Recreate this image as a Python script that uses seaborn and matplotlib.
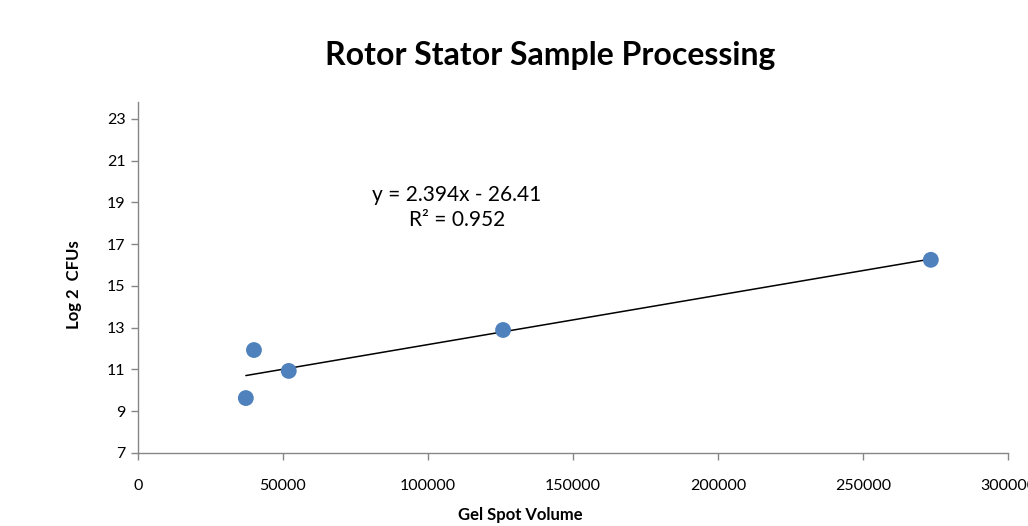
import numpy as np
import pandas as pd
import matplotlib
matplotlib.use('Agg')
import matplotlib.pyplot as plt
import seaborn as sns

# data
gel_spot_volume = [37200, 40000, 52000, 125900, 273400]
log2_cfus = [9.63, 11.93, 10.93, 12.89, 16.25]

x_ticks = [0, 50000, 100000, 150000, 200000, 250000, 300000]
y_ticks = [7, 9, 11, 13, 15, 17, 19, 21, 23]

equation_text = 'y = 2.394x - 26.41\nR² = 0.952'

sns.set_style('white')
plt.rcParams['font.family'] = ['Lato', 'DejaVu Sans']
plt.rcParams['text.color'] = 'black'
plt.rcParams['axes.labelcolor'] = 'black'

df = pd.DataFrame({'volume': gel_spot_volume, 'cfu': log2_cfus})

fig = plt.figure(figsize=(10.28, 5.26), dpi=100)
ax = fig.add_axes([0.1342, 0.1388, 0.8463, 0.667])

sns.regplot(data=df, x='volume', y='cfu', ax=ax, ci=None,
            scatter_kws={'s': 130, 'color': '#4F81BD', 'alpha': 1, 'edgecolor': 'none', 'zorder': 3},
            line_kws={'color': 'black', 'linewidth': 1.1, 'zorder': 2})

ax.set_xlim(0, 300000)
ax.set_ylim(7, 23.8)
ax.set_xticks(x_ticks)
ax.set_xticklabels([str(v) for v in x_ticks])
ax.set_yticks(y_ticks)

for side in ['top', 'right']:
    ax.spines[side].set_visible(False)
for side in ['left', 'bottom']:
    ax.spines[side].set_color('#868686')
    ax.spines[side].set_linewidth(1.0)

ax.tick_params(axis='both', which='major', direction='out', length=5, width=1,
               color='#868686', labelsize=11.5, labelcolor='black', left=True, bottom=True)
ax.tick_params(axis='x', pad=14)
ax.tick_params(axis='y', pad=4)

ax.set_xlabel('Gel Spot Volume', fontsize=12, fontweight='bold', labelpad=6)
ax.set_ylabel('Log 2  CFUs', fontsize=12, fontweight='bold', labelpad=16)
ax.xaxis.set_label_coords(0.44, -0.155)
ax.yaxis.set_label_coords(-0.064, 0.479)

fig.text(0.535, 0.895, 'Rotor Stator Sample Processing', ha='center', va='center',
         fontsize=23, fontweight='bold', color='black')

ax.text(110000, 18.75, equation_text, ha='center', va='center', fontsize=15,
        linespacing=1.35, color='black')

fig.savefig('out.png', dpi=100)
